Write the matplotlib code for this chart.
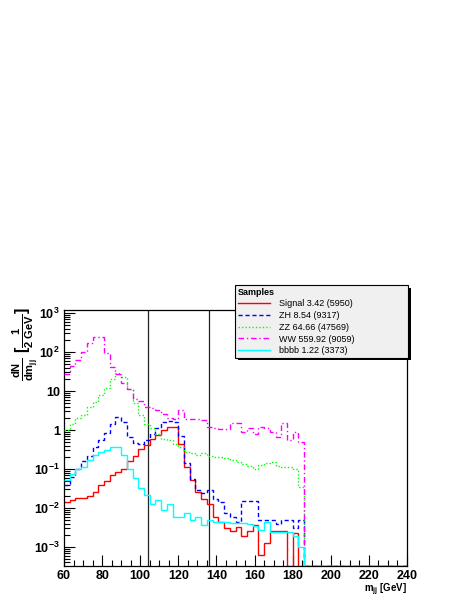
import numpy as np
import matplotlib
matplotlib.use('Agg')
from matplotlib import pyplot as plt
from matplotlib.patches import Rectangle
from matplotlib.ticker import FixedLocator, MultipleLocator, LogLocator, NullFormatter

plt.rcParams['font.family'] = ['Liberation Sans', 'DejaVu Sans']
plt.rcParams['mathtext.fontset'] = 'custom'
plt.rcParams['mathtext.rm'] = 'Liberation Sans'
plt.rcParams['mathtext.bf'] = 'Liberation Sans:bold'
plt.rcParams['mathtext.it'] = 'Liberation Sans:italic'

# m_jj histograms, 3 GeV bins from 60 to 240 (bins above 186 GeV are empty)
edges = np.arange(60, 241, 3)
cuts = [104, 136]

signal = [0.0145, 0.016, 0.0185, 0.0185, 0.020, 0.025, 0.038, 0.050, 0.069, 0.086,
          0.10, 0.16, 0.21, 0.32, 0.41, 0.58, 0.74, 1.0, 1.2, 1.2,
          0.45, 0.115, 0.052, 0.026, 0.017, 0.0126, 0.006, 0.0045, 0.003, 0.0025,
          0.0032, 0.0019, 0.0026, 0.0036, 0.00064, 0.0013, 0.0026, 0.0026, 0.0026, 0.0,
          0.0023, 0.0]
zh = [0.04, 0.064, 0.098, 0.16, 0.21, 0.37, 0.55, 0.82, 1.4, 2.1,
      1.6, 0.65, 0.47, 0.45, 0.55, 0.8, 1.15, 1.6, 1.7, 1.6,
      0.7, 0.14, 0.057, 0.029, 0.024, 0.029, 0.017, 0.014, 0.0076, 0.006,
      0.0045, 0.015, 0.015, 0.015, 0.005, 0.005, 0.005, 0.004, 0.005, 0.005,
      0.0031, 0.005]
zz = [1.0, 1.45, 2.0, 2.5, 4.0, 5.3, 7.9, 11.7, 20, 29,
      23, 11, 4.8, 2.4, 1.4, 1.1, 0.8, 0.6, 0.55, 0.45,
      0.36, 0.28, 0.25, 0.23, 0.25, 0.21, 0.2, 0.2, 0.19, 0.17,
      0.15, 0.135, 0.12, 0.10, 0.127, 0.14, 0.15, 0.12, 0.11, 0.11,
      0.098, 0.035]
ww = [27, 44, 64, 100, 170, 250, 250, 92, 42, 28,
      16, 11, 6.2, 5.6, 4.0, 3.7, 3.2, 2.6, 2.0, 1.9,
      3.3, 1.9, 1.9, 1.9, 1.85, 1.2, 1.1, 1.05, 1.05, 1.5,
      1.5, 0.9, 1.1, 0.8, 1.2, 1.1, 0.9, 0.65, 1.5, 0.55,
      0.9, 0.5]
bbbb = [0.052, 0.075, 0.1, 0.11, 0.17, 0.23, 0.27, 0.31, 0.36, 0.37,
        0.23, 0.10, 0.058, 0.032, 0.021, 0.013, 0.016, 0.0089, 0.013, 0.006,
        0.006, 0.0073, 0.0049, 0.006, 0.0037, 0.0049, 0.0045, 0.0043, 0.0045, 0.0041,
        0.0042, 0.0042, 0.0038, 0.0035, 0.0028, 0.0045, 0.0024, 0.0024, 0.0024, 0.0024,
        0.0019, 0.001]

labels = ['Signal 3.42 (5950)', 'ZH 8.54 (9317)', 'ZZ 64.66 (47569)',
          'WW 559.92 (9059)', 'bbbb 1.22 (3373)']
colors = ['#ff0000', '#0000ff', '#00ff00', '#ff00ff', '#00ffff']
styles = ['-', (0, (3, 2)), (0, (1, 1.5)), (0, (4, 2, 1, 2)), '-']

ymin, ymax = 3.25e-4, 1.2e3

fig = plt.figure(figsize=(4.63, 5.99), dpi=100)
ax = fig.add_axes([64 / 463, 33 / 599, 343 / 463, 256 / 599])

nbins = len(edges) - 1
for i, h in enumerate([signal, zh, zz, ww, bbbb]):
    v = np.zeros(nbins)
    v[:len(h)] = h
    v = np.where(v > 0, v, ymin)  # empty bins sit on the frame, like ROOT
    ax.stairs(v, edges, baseline=None, color=colors[i], linestyle=styles[i],
              lw=1.0, label=labels[i], zorder=2 + i)

for c in cuts:
    ax.axvline(c, color='#222222', lw=0.9, zorder=1)

ax.set_yscale('log')
ax.set_xlim(60, 240)
ax.set_ylim(ymin, ymax)

ax.xaxis.set_major_locator(MultipleLocator(20))
ax.xaxis.set_minor_locator(MultipleLocator(5))
ax.yaxis.set_major_locator(FixedLocator([1e-3, 1e-2, 1e-1, 1, 10, 1e2, 1e3]))
ax.set_yticklabels([r'$\mathbf{10^{-3}}$', r'$\mathbf{10^{-2}}$', r'$\mathbf{10^{-1}}$',
                    '1', '10', r'$\mathbf{10^{2}}$', r'$\mathbf{10^{3}}$'])
ax.yaxis.set_minor_locator(LogLocator(base=10, subs=np.arange(2, 10), numticks=20))
ax.yaxis.set_minor_formatter(NullFormatter())
ax.tick_params(which='both', direction='in', labelsize=9, width=0.8)
ax.tick_params(which='major', length=8)
ax.tick_params(which='minor', length=4)
ax.tick_params(axis='x', pad=3)
ax.tick_params(axis='y', pad=3)
for t in ax.get_xticklabels() + ax.get_yticklabels():
    t.set_fontweight('bold')
for s in ax.spines.values():
    s.set_linewidth(0.9)

fig.text(26 / 463, 1 - 344 / 599,
         r'$\frac{\mathbf{dN}}{\mathbf{dm_{jj}}}\ \mathbf{[}\frac{\mathbf{1}}{\mathbf{2\ GeV}}\mathbf{]}$',
         rotation=90, ha='center', va='center', fontsize=11.5)
fig.text(407 / 463, 1 - 582 / 599, r'$\mathbf{m_{jj}}$ [GeV]', ha='right', va='top',
         fontsize=7, fontweight='bold')

leg = ax.legend(loc='upper left', bbox_to_anchor=(235 / 463, 1 - 357 / 599, 173 / 463, 72 / 599),
                bbox_transform=fig.transFigure, mode='expand', borderaxespad=0,
                title='Samples', alignment='left', fontsize=6.5,
                title_fontproperties={'weight': 'bold', 'size': 6.5},
                fancybox=False, shadow=False,
                facecolor='#f0f0f0', framealpha=1, edgecolor='black',
                handlelength=3.6, handletextpad=1.0, labelspacing=0.3, borderpad=0.3)
leg.get_frame().set_linewidth(0.8)
leg.set_zorder(20)

# ROOT style drop shadow under the legend box
ax.add_patch(Rectangle((238 / 463, 1 - 360 / 599), 173 / 463, 72 / 599,
                       transform=fig.transFigure, facecolor='black', edgecolor='none',
                       clip_on=False, zorder=19))

fig.savefig('out.png', dpi=100)
